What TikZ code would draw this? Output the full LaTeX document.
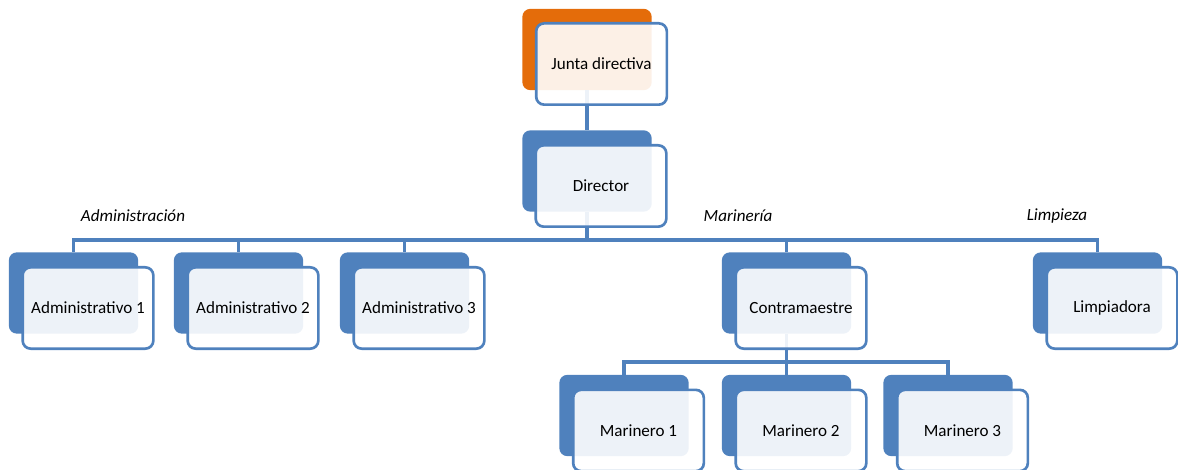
\documentclass[tikz,border=0pt]{standalone}
\usepackage{fontspec}
\setmainfont{Carlito}
\usepackage{tikz}
\usepackage{xcolor}
\definecolor{cblue}{HTML}{4F81BD}
\definecolor{corange}{HTML}{E46C0A}
\begin{document}
\begin{tikzpicture}[x=0.75pt,y=-0.75pt,
  back/.style={rounded corners=6pt,fill=cblue,draw=none,minimum width=97pt,minimum height=61pt,inner sep=0pt},
  front/.style={rounded corners=6pt,fill=white,fill opacity=0.9,text opacity=1,draw=cblue,line width=2pt,minimum width=98pt,minimum height=61pt,inner sep=0pt,font=\fontsize{12.8}{15}\selectfont},
  conn/.style={draw=cblue,line width=2.6pt},
  group/.style={font=\fontsize{12.8}{15}\selectfont\itshape}]
\useasboundingbox (0,0) rectangle (1178,470);
\node[back,fill=corange] (jd) at (587,49.5) {};
\node[back] (dir) at (587,171) {};
\node[back] (adm1) at (73.5,293) {};
\node[back] (adm2) at (238.5,293) {};
\node[back] (adm3) at (404.5,293) {};
\node[back] (con) at (786.5,293) {};
\node[back] (lim) at (1097.5,293) {};
\node[back] (mar1) at (624,415.5) {};
\node[back] (mar2) at (786.5,415.5) {};
\node[back] (mar3) at (948,415.5) {};
\draw[conn] (jd.south) -- (dir.north);
\draw[conn] (dir.south) -- (587,240) -| (adm1.north);
\draw[conn] (587,240) -| (adm2.north);
\draw[conn] (587,240) -| (adm3.north);
\draw[conn] (587,240) -| (con.north);
\draw[conn] (587,240) -| (lim.north);
\draw[conn] (con.south) -- (786.5,362) -| (mar1.north);
\draw[conn] (786.5,362) -- (mar2.north);
\draw[conn] (786.5,362) -| (mar3.north);
\node[front] (jdf) at (601.5,64) {Junta directiva};
\node[front] (dirf) at (601,186) {Director};
\node[front] (adm1f) at (88,308) {Administrativo 1};
\node[front] (adm2f) at (253,308) {Administrativo 2};
\node[front] (adm3f) at (419,308) {Administrativo 3};
\node[front] (conf) at (801,308) {Contramaestre};
\node[front] (limf) at (1112,308) {Limpiadora};
\node[front] (mar1f) at (638.5,430.5) {Marinero 1};
\node[front] (mar2f) at (801,430.5) {Marinero 2};
\node[front] (mar3f) at (962.5,430.5) {Marinero 3};
\node[group] (ladm) at (133,216) {Administración};
\node[group] (lmar) at (738,216) {Marinería};
\node[group] (llim) at (1057,216) {Limpieza};
\end{tikzpicture}
\end{document}
